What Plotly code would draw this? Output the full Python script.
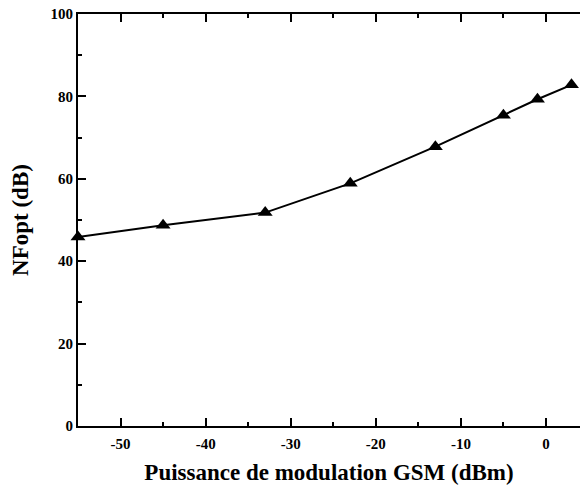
import plotly.graph_objects as go

power_dbm = [-55, -45, -33, -23, -13, -5, -1, 3]
nfopt_db = [45.9, 48.7, 51.8, 58.9, 67.8, 75.4, 79.3, 82.8]

x_tickvals = [-50, -40, -30, -20, -10, 0]
x_ticktext = ["-50", "-40", "-30", "-20", "-10", "0"]
y_tickvals = [0, 20, 40, 60, 80, 100]
y_ticktext = ["0", "20", "40", "60", "80", "100"]

fig = go.Figure()
fig.add_trace(go.Scatter(
    x=power_dbm, y=nfopt_db, mode="lines+markers",
    line=dict(color="black", width=2),
    marker=dict(symbol="triangle-up", size=13, color="black"),
    cliponaxis=False, showlegend=False,
))

font_family = "Liberation Serif, Times New Roman, serif"

fig.update_layout(
    width=580, height=485,
    margin=dict(l=78, r=0, t=14, b=59),
    paper_bgcolor="white", plot_bgcolor="white",
    font=dict(family=font_family, color="black"),
)
fig.update_xaxes(
    range=[-55, 4.0], tickvals=x_tickvals, ticktext=x_ticktext,
    ticks="inside", ticklen=8, tickwidth=2, tickcolor="black",
    minor=dict(dtick=5, tick0=0, ticks="inside", ticklen=4, tickwidth=2, tickcolor="black"),
    showline=True, linecolor="black", linewidth=2, mirror="ticks",
    showgrid=False, zeroline=False, automargin=False, ticklabelstandoff=3,
    tickfont=dict(size=15, weight="bold", family=font_family),
    title=dict(text="Puissance de modulation GSM (dBm)",
               font=dict(size=23, weight="bold", family=font_family)),
)
fig.update_yaxes(
    range=[0, 100], tickvals=y_tickvals, ticktext=y_ticktext,
    ticks="inside", ticklen=8, tickwidth=2, tickcolor="black",
    minor=dict(dtick=10, tick0=0, ticks="inside", ticklen=4, tickwidth=2, tickcolor="black"),
    showline=True, linecolor="black", linewidth=2, mirror=False,
    showgrid=False, zeroline=False, automargin=False,
    tickfont=dict(size=15, weight="bold", family=font_family),
    title=dict(text="NFopt (dB)",
               font=dict(size=23, weight="bold", family=font_family)),
)

fig.write_html("out.html", config={"displayModeBar": False},
               post_script="document.body.style.margin='0';")
